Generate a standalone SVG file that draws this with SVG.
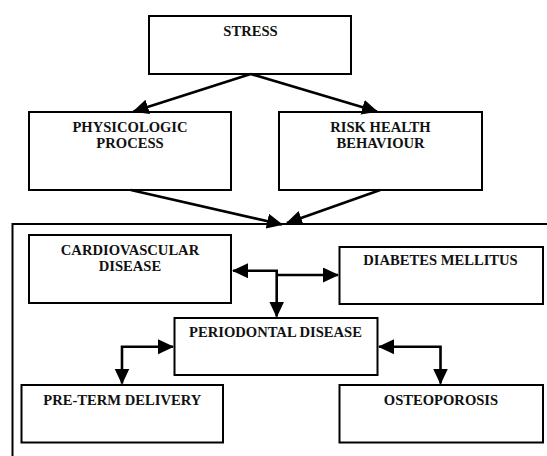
<svg xmlns="http://www.w3.org/2000/svg" width="547" height="456" viewBox="0 0 547 456">
<style>
.box{fill:#fff;stroke:#000;stroke-width:2}
.frame{fill:none;stroke:#000;stroke-width:2}
.t{font-family:"Liberation Serif","Times New Roman",serif;font-weight:bold;font-size:14.6px;fill:#111;text-anchor:middle}
.c{fill:none;stroke:#000;stroke-width:2.6}
</style>
<defs>
<marker id="ah" markerUnits="userSpaceOnUse" markerWidth="18" markerHeight="16" refX="15" refY="7.5" orient="auto-start-reverse">
<path d="M0,0 L16,7.5 L0,15 z" fill="#000"/>
</marker>
</defs>
<rect width="547" height="456" fill="#fff"/>
<g id="frame"><path class="frame" d="M547 224 H12.5 V456"/></g>
<g id="stress"><rect class="box" x="149" y="16" width="202" height="58"/><text class="t" x="250.5" y="36">STRESS</text></g>
<g id="physicologic"><rect class="box" x="29" y="112" width="202" height="78"/><text class="t" x="130" y="132">PHYSICOLOGIC</text><text class="t" x="130" y="148.3">PROCESS</text></g>
<g id="risk"><rect class="box" x="279" y="112" width="203" height="78"/><text class="t" x="380.5" y="132">RISK HEALTH</text><text class="t" x="380.5" y="148.3">BEHAVIOUR</text></g>
<g id="cardio"><rect class="box" x="29" y="235" width="202" height="68"/><text class="t" x="130" y="255">CARDIOVASCULAR</text><text class="t" x="130" y="270.5">DISEASE</text></g>
<g id="diabetes"><rect class="box" x="339.5" y="247" width="203.5" height="57"/><text class="t" x="440.5" y="265">DIABETES MELLITUS</text></g>
<g id="periodontal"><rect class="box" x="174.5" y="318" width="203" height="57"/><text class="t" x="275.5" y="337.3">PERIODONTAL DISEASE</text></g>
<g id="preterm"><rect class="box" x="21.5" y="385" width="201.5" height="57.5"/><text class="t" x="122.3" y="405">PRE-TERM DELIVERY</text></g>
<g id="osteoporosis"><rect class="box" x="339.5" y="385" width="203.5" height="57.5"/><text class="t" x="441" y="405">OSTEOPOROSIS</text></g>
<g id="connectors">
<line class="c" x1="250.7" y1="74" x2="133.5" y2="111.5" marker-end="url(#ah)"/>
<line class="c" x1="250.7" y1="74" x2="377" y2="111.5" marker-end="url(#ah)"/>
<line class="c" x1="130.8" y1="190" x2="282" y2="224.5" marker-end="url(#ah)"/>
<line class="c" x1="380.2" y1="190" x2="287" y2="223" marker-end="url(#ah)"/>
<path class="c" d="M233 270.7 H276.7 V316.5" marker-start="url(#ah)" marker-end="url(#ah)"/>
<line class="c" x1="276.7" y1="275" x2="338" y2="275" marker-end="url(#ah)"/>
<path class="c" d="M173 346.7 H122 V383.5" marker-start="url(#ah)" marker-end="url(#ah)"/>
<path class="c" d="M379 346.7 H440.5 V383.5" marker-start="url(#ah)" marker-end="url(#ah)"/>
</g>
</svg>
